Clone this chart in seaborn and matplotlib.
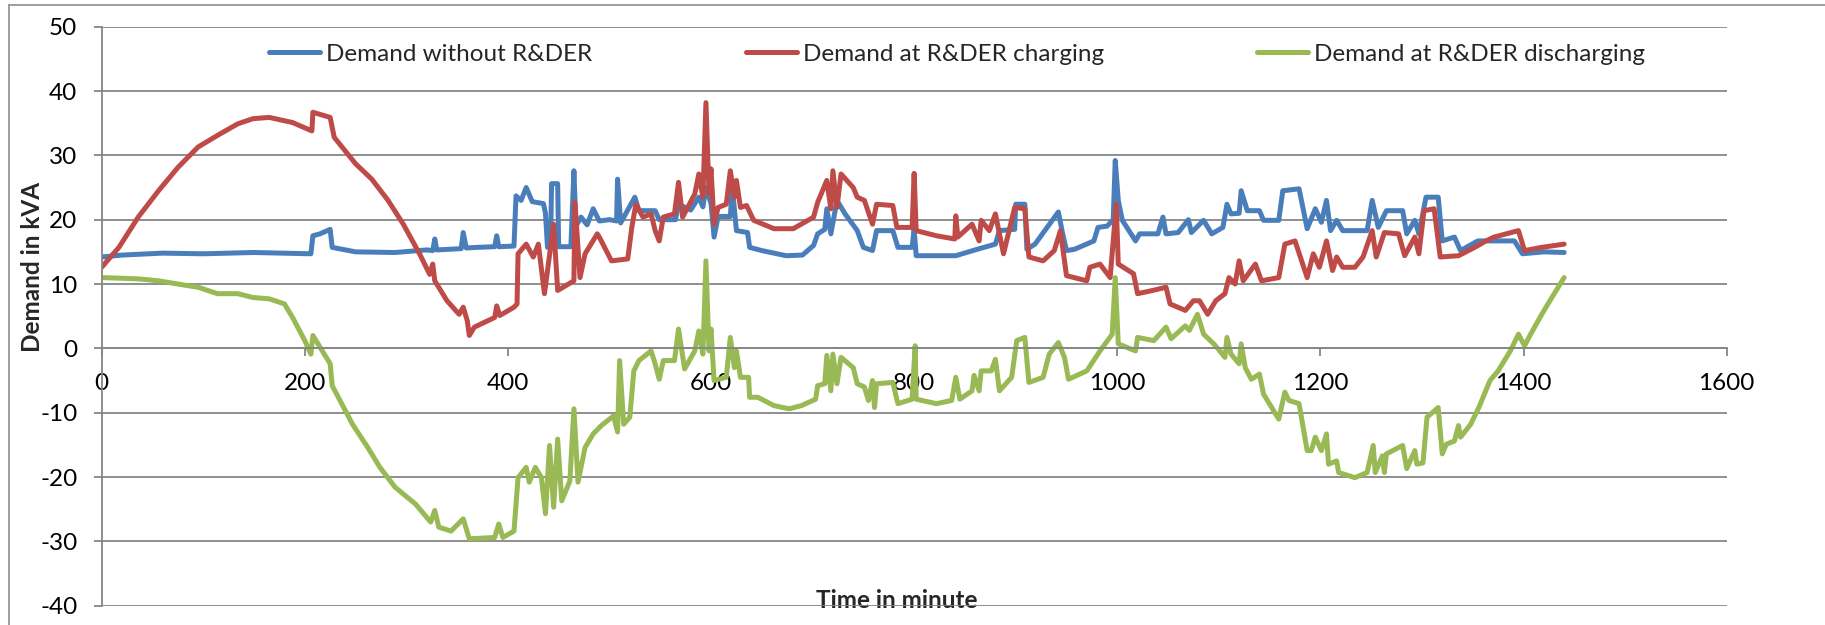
import matplotlib
matplotlib.use("Agg")
import matplotlib.pyplot as plt
import seaborn as sns
from matplotlib.lines import Line2D

# demand without R&DER (minute, kVA)
t_without = [0, 20, 60, 100, 150, 206, 208, 215, 225, 227, 250, 289, 320, 326, 328, 330,
             354, 356, 359, 370, 387, 389, 391, 406, 408, 413, 418, 424, 435, 437, 439, 442,
             443, 449, 450, 462, 465, 467, 472, 478, 484, 490, 500, 507, 508, 511, 525, 529,
             545, 549, 565, 568, 580, 588, 592, 595, 600, 603, 607, 619, 621, 625, 636, 638,
             650, 674, 690, 701, 705, 712, 714, 718, 724, 732, 744, 750, 759, 763, 779, 784,
             798, 800, 802, 841, 860, 880, 884, 899, 900, 909, 911, 919, 931, 942, 946, 950,
             958, 977, 981, 990, 996, 998, 1001, 1005, 1018, 1022, 1040, 1045, 1048, 1060,
             1070, 1073, 1085, 1093, 1104, 1108, 1112, 1120, 1122, 1128, 1140, 1144, 1159,
             1163, 1179, 1187, 1195, 1201, 1206, 1210, 1216, 1222, 1246, 1251, 1257, 1265,
             1281, 1285, 1293, 1297, 1304, 1316, 1320, 1332, 1338, 1355, 1391, 1399, 1420, 1440]
v_without = [14.2, 14.5, 14.8, 14.7, 14.9, 14.7, 17.5, 17.8, 18.5, 15.7, 15.0, 14.9, 15.3, 15.2, 17.0, 15.3,
             15.5, 18.0, 15.6, 15.7, 15.8, 17.5, 15.8, 15.9, 23.7, 23.0, 25.0, 22.8, 22.5, 21.0, 15.7, 15.7,
             25.6, 25.6, 15.8, 15.8, 27.6, 19.0, 20.4, 19.2, 21.7, 19.8, 20.0, 19.8, 26.3, 19.5, 23.5, 21.4,
             21.4, 20.0, 20.0, 22.4, 21.5, 23.5, 22.0, 25.0, 22.5, 17.3, 20.5, 20.5, 25.0, 18.3, 18.0, 15.7,
             15.2, 14.4, 14.5, 16.0, 17.8, 18.5, 21.7, 17.8, 23.0, 20.9, 18.3, 15.7, 15.2, 18.3, 18.3, 15.7,
             15.7, 18.5, 14.4, 14.4, 15.3, 16.2, 18.3, 18.5, 22.4, 22.4, 15.4, 16.2, 18.8, 21.2, 18.0, 15.2,
             15.4, 16.7, 18.8, 19.0, 20.0, 29.2, 23.0, 19.9, 16.7, 17.8, 17.8, 20.4, 17.8, 18.0,
             20.0, 18.0, 19.9, 17.8, 18.8, 22.4, 20.9, 21.0, 24.5, 21.4, 21.4, 19.9, 19.9,
             24.5, 24.8, 18.6, 21.7, 19.6, 23.0, 18.3, 19.9, 18.3, 18.3, 23.0, 18.8, 21.4,
             21.4, 17.8, 19.9, 17.8, 23.5, 23.5, 16.7, 17.3, 15.2, 16.7, 16.7, 14.7, 15.0, 14.9]

# demand at R&DER charging
t_charging = [0, 17, 36, 56, 75, 95, 114, 134, 149, 165, 188, 207, 208, 225, 229, 250, 266, 282,
              297, 313, 323, 326, 328, 340, 352, 356, 360, 362, 367, 387, 389, 392, 406, 409, 410,
              418, 425, 430, 436, 445, 449, 465, 466, 471, 476, 488, 490, 502, 518, 522, 526, 533,
              541, 545, 549, 553, 564, 568, 572, 584, 588, 592, 595, 598, 600, 603, 607, 615, 619,
              623, 625, 629, 635, 642, 662, 681, 701, 705, 714, 718, 720, 724, 728, 740, 744, 751,
              759, 763, 779, 783, 798, 800, 802, 822, 840, 841, 843, 857, 864, 866, 874, 880, 888,
              899, 909, 913, 927, 938, 944, 950, 970, 973, 983, 993, 999, 1001, 1016, 1020, 1035,
              1048, 1052, 1067, 1075, 1081, 1089, 1097, 1106, 1110, 1116, 1120, 1124, 1136, 1142,
              1159, 1165, 1175, 1187, 1193, 1199, 1206, 1212, 1216, 1222, 1234, 1242, 1251, 1255,
              1263, 1277, 1283, 1293, 1297, 1302, 1312, 1318, 1336, 1352, 1363, 1371, 1395, 1401,
              1418, 1440]
v_charging = [12.6, 15.7, 20.4, 24.5, 28.1, 31.3, 33.1, 34.9, 35.7, 35.9, 35.1, 33.8, 36.7, 35.9, 32.8, 28.7, 26.3, 23.0,
              19.3, 14.7, 11.5, 13.1, 10.5, 7.4, 5.3, 6.4, 4.3, 2.0, 3.3, 4.8, 6.6, 5.1, 6.4, 6.9, 14.7,
              16.2, 14.2, 16.2, 8.5, 19.3, 9.0, 10.5, 22.7, 11.0, 14.7, 17.8, 17.3, 13.6, 13.9, 18.8, 22.4, 20.4,
              20.9, 18.3, 16.7, 20.4, 20.9, 25.8, 20.4, 24.0, 27.1, 23.5, 38.2, 24.0, 27.9, 19.3, 21.9, 22.4, 27.6,
              23.5, 26.1, 21.9, 22.2, 19.9, 18.6, 18.6, 20.4, 22.7, 26.1, 21.7, 27.6, 21.9, 27.1, 25.0, 23.5, 23.0,
              19.3, 22.4, 22.2, 18.8, 18.8, 27.2, 18.3, 17.5, 17.0, 20.6, 17.3, 19.3, 16.7, 19.9, 18.3, 20.9, 14.7,
              21.9, 21.7, 14.2, 13.6, 15.2, 18.3, 11.3, 10.5, 12.6, 13.1, 11.0, 22.4, 13.1, 11.6, 8.5, 9.0,
              9.5, 6.9, 5.9, 7.4, 7.4, 5.3, 7.4, 8.5, 11.0, 10.0, 13.6, 10.5, 13.1, 10.5,
              11.0, 16.2, 16.7, 11.0, 14.7, 12.6, 16.7, 12.1, 14.2, 12.6, 12.6, 14.2, 18.3, 14.2,
              18.0, 17.8, 14.4, 17.3, 14.7, 21.4, 21.7, 14.2, 14.4, 15.7, 16.7, 17.3, 18.3, 15.2,
              15.7, 16.2]

# demand at R&DER discharging
t_discharging = [0, 36, 56, 75, 95, 114, 134, 149, 165, 180, 188, 200, 206, 208, 225, 227, 247, 262,
                 274, 289, 309, 324, 328, 332, 344, 356, 362, 387, 391, 395, 406, 410, 418, 421, 427,
                 433, 437, 441, 445, 449, 453, 461, 465, 469, 476, 484, 492, 504, 508, 510, 514, 520,
                 524, 529, 541, 545, 549, 553, 564, 568, 574, 584, 588, 592, 595, 598, 600, 603, 615,
                 619, 623, 625, 629, 637, 638, 646, 662, 677, 689, 703, 705, 712, 714, 718, 720, 724,
                 728, 740, 744, 751, 755, 759, 761, 763, 779, 784, 798, 801, 802, 822, 837, 841, 845,
                 857, 859, 864, 866, 876, 880, 884, 896, 901, 909, 913, 927, 933, 942, 948, 952, 970,
                 983, 995, 998, 1001, 1018, 1020, 1036, 1048, 1053, 1067, 1071, 1079, 1085, 1095, 1101,
                 1106, 1108, 1112, 1120, 1122, 1126, 1132, 1140, 1144, 1159, 1165, 1169, 1179, 1183,
                 1187, 1191, 1195, 1201, 1206, 1208, 1216, 1218, 1234, 1246, 1252, 1254, 1261, 1263,
                 1265, 1281, 1285, 1293, 1295, 1301, 1305, 1316, 1320, 1324, 1332, 1336, 1338, 1348,
                 1356, 1367, 1375, 1387, 1395, 1401, 1407, 1418, 1426, 1440]
v_discharging = [11.0, 10.8, 10.5, 10.0, 9.5, 8.5, 8.5, 7.9, 7.7, 6.9, 4.8, 1.2, -0.9, 2.0, -2.4, -5.8, -11.8, -15.4,
                 -18.5, -21.6, -24.2, -27.0, -25.2, -27.8, -28.4, -26.5, -29.6, -29.4, -27.3, -29.4, -28.4, -20.1, -18.5, -20.8, -18.5,
                 -20.1, -25.7, -15.1, -24.7, -14.1, -23.7, -20.6, -9.4, -20.8, -15.4, -13.3, -12.0, -10.5, -13.0, -1.9, -11.8, -10.7,
                 -3.5, -1.9, -0.4, -2.4, -4.8, -1.9, -1.9, 3.0, -3.2, -0.4, 2.7, -0.9, 13.6, -0.4, 3.0, -5.0, -4.5,
                 1.7, -3.0, -0.4, -4.5, -4.5, -7.6, -7.6, -8.9, -9.4, -8.9, -7.9, -5.8, -5.5, -1.1, -6.6, -0.9, -5.5,
                 -1.4, -3.0, -5.5, -6.0, -8.1, -5.0, -9.2, -5.5, -5.3, -8.6, -7.9, 0.4, -7.9, -8.6, -8.1, -4.5, -7.9,
                 -6.6, -4.2, -6.6, -3.5, -3.5, -1.7, -6.6, -4.5, 1.2, 1.7, -5.3, -4.5, -0.9, 0.9, -1.4, -4.8, -3.5,
                 -0.4, 2.2, 11.0, 0.7, -0.4, 1.7, 1.2, 3.3, 1.5, 3.5, 2.8, 5.3, 2.2, 0.7, -0.4,
                 -1.4, 1.7, -0.9, -2.4, 0.7, -3.0, -4.8, -4.0, -7.1, -11.0, -6.8, -8.1, -8.6, -12.3,
                 -15.9, -15.9, -13.8, -15.9, -13.3, -18.0, -17.5, -19.3, -20.1, -19.3, -15.1, -19.3, -16.7, -19.3,
                 -16.4, -15.1, -18.7, -15.9, -18.0, -17.8, -10.7, -9.2, -16.4, -14.9, -14.4, -12.0, -13.8, -11.8,
                 -9.2, -5.0, -3.5, -0.4, 2.2, 0.4, 2.2, 5.3, 7.4, 11.0]

series_names = ["Demand without R&DER", "Demand at R&DER charging", "Demand at R&DER discharging"]
series_colors = ["#4A7EBB", "#BE4B48", "#98B954"]
y_ticks = list(range(-40, 51, 10))
x_ticks = list(range(0, 1601, 200))

sns.set_style("white")
plt.rcParams['font.family'] = ['Lato', 'DejaVu Sans']
plt.rcParams['axes.unicode_minus'] = False
grid_col = "#868686"
fs = 17.5

fig = plt.figure(figsize=(18.25, 6.25), dpi=100)
ax = fig.add_axes([0.0557, 0.0309, 0.8904, 0.9264])

data = [(t_without, v_without), (t_charging, v_charging), (t_discharging, v_discharging)]
for (t, v), name, col in zip(data, series_names, series_colors):
    sns.lineplot(x=t, y=v, color=col, lw=3.6, estimator=None, sort=False, ax=ax, label=name,
                 solid_joinstyle="round", solid_capstyle="round")

ax.set_xlim(0, 1600)
ax.set_ylim(-40, 50)
ax.set_xticks(x_ticks)
ax.set_yticks(y_ticks)
ax.yaxis.grid(True, color=grid_col, lw=1.3)
ax.xaxis.grid(False)
ax.set_axisbelow(True)

for s in ["top", "right"]:
    ax.spines[s].set_visible(False)
ax.spines["left"].set_color(grid_col)
ax.spines["left"].set_linewidth(1.3)
ax.spines["bottom"].set_position(("data", 0))
ax.spines["bottom"].set_color(grid_col)
ax.spines["bottom"].set_linewidth(1.3)

ax.tick_params(axis="x", bottom=True, direction="out", length=5.5, width=1.3,
               color=grid_col, labelsize=fs, pad=12, labelcolor="black")
ax.tick_params(axis="y", left=True, direction="out", length=5.5, width=1.3,
               color=grid_col, labelsize=fs, pad=12, labelcolor="black")

ax.set_xlabel("Time in minute", fontsize=fs, fontweight="bold")
ax.xaxis.set_label_coords(0.489, 0.028)
ax.set_ylabel("Demand in kVA", fontsize=fs, fontweight="bold")
ax.yaxis.set_label_coords(-0.0355, 0.585)

ax.legend(loc="center left", bbox_to_anchor=(0.103, 0.952), ncol=3, frameon=False,
          fontsize=fs, handlelength=2.1, handletextpad=0.25, columnspacing=6.3,
          borderaxespad=0, borderpad=0)

# outer chart border
fig.add_artist(Line2D([0.0051, 0.0051], [0, 0.9915], color="#8c8c8c", lw=1.2))
fig.add_artist(Line2D([0.0051, 1.0], [0.9915, 0.9915], color="#8c8c8c", lw=1.2))

fig.savefig("out.png", dpi=100)
